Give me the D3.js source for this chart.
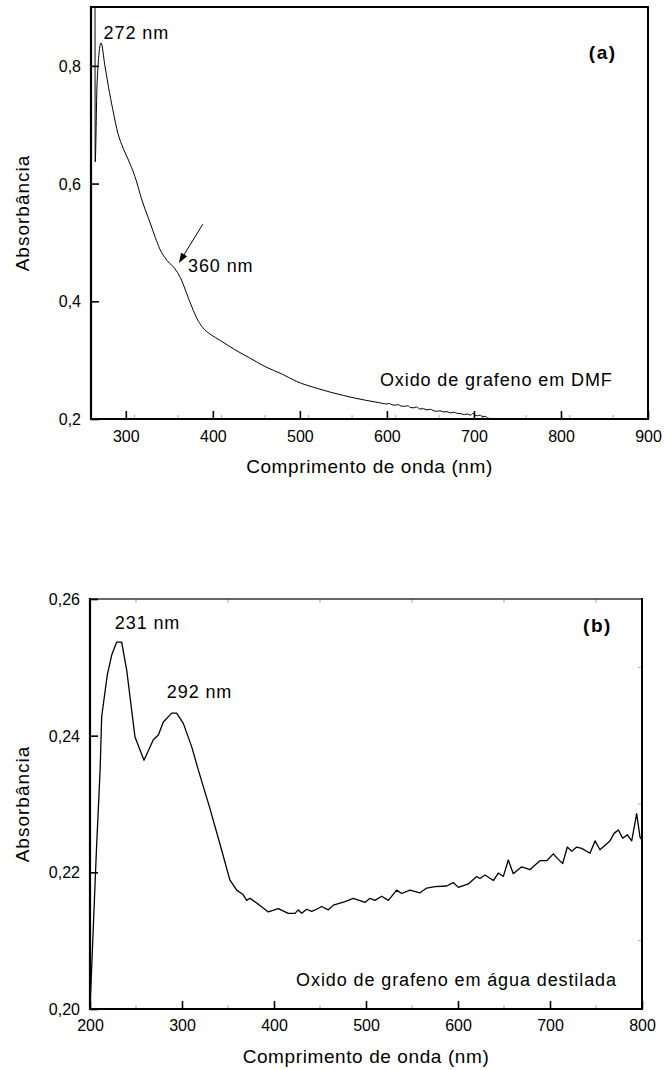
<!DOCTYPE html>
<html>
<head>
<meta charset="utf-8">
<script src="https://cdn.jsdelivr.net/npm/d3@7"></script>
<style>
  body { margin: 0; background: #fff; }
  svg text { font-family: "Liberation Sans", Arial, Helvetica, sans-serif; fill: #000; }
</style>
</head>
<body>
<div id="chart"></div>
<script>
// ---- panel (a): GO in DMF ----
const aWavelength = [264.6, 264.8, 267, 271.5, 276, 280, 285, 291, 297, 303, 310.5, 318.5, 328, 334, 339, 345, 350, 355, 358, 364, 370, 376, 382, 388, 398, 408, 425, 442, 460, 480, 496, 520, 550, 575, 590,
  595, 600, 603, 606, 610, 613, 616, 620, 624, 627, 631, 634, 638, 642, 646, 650, 653, 657, 661, 665, 669, 673, 677, 681, 685, 689, 693, 696, 699, 701, 704, 707, 710, 713, 716, 720, 724];
const aAbsorbance = [0.9, 0.637, 0.771, 0.839, 0.80, 0.765, 0.726, 0.685, 0.660, 0.640, 0.612, 0.572, 0.533, 0.508, 0.489, 0.474, 0.465, 0.458, 0.452, 0.436, 0.413, 0.390, 0.370, 0.356, 0.343, 0.334, 0.318, 0.304, 0.289, 0.276, 0.264, 0.252, 0.240, 0.232, 0.228,
  0.2265, 0.2255, 0.2265, 0.224, 0.2235, 0.2245, 0.222, 0.2215, 0.2225, 0.2195, 0.219, 0.2205, 0.217, 0.2175, 0.2155, 0.2165, 0.2145, 0.213, 0.214, 0.212, 0.2125, 0.2105, 0.2115, 0.2095, 0.209, 0.2075, 0.2085, 0.2065, 0.2095, 0.207, 0.2055, 0.2065, 0.2035, 0.2045, 0.2015, 0.2005, 0.199];
const aXTicks = [300, 400, 500, 600, 700, 800, 900];
const aYTicks = [0.2, 0.4, 0.6, 0.8];

// ---- panel (b): GO in distilled water ----
const bWavelength = [200, 207, 211, 212.7, 218.8, 223.6, 229, 234.4, 239.9, 248.9, 258.7, 268.8, 274.3, 279.7, 288.8, 294.2, 301.4, 310.5, 317.7, 330, 343, 352, 359.4, 366, 370.3, 373.9, 381.2, 393.8, 404.7, 415.5, 422.8, 426.4, 430.1, 435.5, 441, 446.4, 451.8, 459, 464.5, 477.2, 486.2, 498.9, 504.3, 509.8, 517, 524.3, 533.3, 538.8, 547.8, 558.7, 566, 575, 587.7, 594.9, 600.4, 611.2, 620.3, 623.9, 629.3, 638.4, 643.8, 649.3, 654.7, 660.1, 669.2, 678.3, 689.1, 696.4, 703.6, 709.1, 713.8, 718.8, 723.6, 729, 734.4, 743.5, 748.9, 754.3, 765.2, 769.6, 774.3, 779, 784, 788.8, 794.2, 797.8, 800];
const bAbsorbance = [0.2, 0.2233, 0.235, 0.2428, 0.2489, 0.2518, 0.2537, 0.2537, 0.2496, 0.2398, 0.2364, 0.2394, 0.2401, 0.2420, 0.2433, 0.2433, 0.2418, 0.2384, 0.235, 0.2295, 0.2233, 0.2189, 0.2174, 0.2168, 0.2159, 0.2162, 0.2155, 0.2142, 0.2147, 0.2140, 0.2140, 0.2145, 0.2140, 0.2146, 0.2143, 0.2146, 0.2150, 0.2145, 0.2152, 0.2157, 0.2162, 0.2156, 0.2162, 0.2159, 0.2165, 0.2159, 0.2174, 0.2169, 0.2174, 0.2170, 0.2177, 0.2179, 0.2180, 0.2185, 0.2178, 0.2183, 0.2194, 0.2191, 0.2196, 0.2188, 0.2199, 0.2194, 0.2218, 0.2198, 0.2208, 0.2204, 0.2217, 0.2217, 0.2227, 0.2219, 0.2213, 0.2237, 0.2231, 0.2237, 0.2235, 0.2228, 0.2246, 0.2233, 0.2246, 0.2257, 0.2262, 0.2250, 0.2255, 0.2246, 0.2286, 0.2252, 0.2247];
const bXTicks = [200, 300, 400, 500, 600, 700, 800];
const bYTicks = [0.20, 0.22, 0.24, 0.26];

const xTitle = "Comprimento de onda (nm)";
const yTitle = "Absorbância";

const W = 664, H = 1070;
const FONT = "'Liberation Sans', Arial, Helvetica, sans-serif";
const svg = d3.select("#chart").append("svg").attr("width", W).attr("height", H)
  .attr("font-family", FONT);

const commaFmt = (digits) => (v) => d3.format("." + digits + "f")(v).replace(".", ",");

function drawPanel(p) {
  const x = d3.scaleLinear().domain(p.xDomain).range([p.left, p.right]);
  const y = d3.scaleLinear().domain(p.yDomain).range([p.bottom, p.top]);
  const g = svg.append("g");

  g.append("defs").append("clipPath").attr("id", "clip" + p.id)
    .append("rect").attr("x", p.left).attr("y", p.top)
    .attr("width", p.right - p.left).attr("height", p.bottom - p.top);

  // faint minor ticks
  const xMinor = d3.range(p.xDomain[0], p.xDomain[1] + 1, p.xMinorStep).filter(v => !p.xTicks.includes(v));
  const yMinor = d3.range(p.yDomain[0], p.yDomain[1] + 1e-9, p.yMinorStep)
    .filter(v => !p.yTicks.some(t => Math.abs(t - v) < 1e-9));
  const minor = g.append("g").attr("stroke", "#aaa").attr("stroke-width", 1);
  xMinor.forEach(v => {
    minor.append("line").attr("x1", x(v)).attr("x2", x(v)).attr("y1", p.bottom).attr("y2", p.bottom - 4);
    if (p.minorAround) minor.append("line").attr("x1", x(v)).attr("x2", x(v)).attr("y1", p.top).attr("y2", p.top + 4);
  });
  if (p.minorAround) {
    yMinor.forEach(v => {
      minor.append("line").attr("x1", p.right).attr("x2", p.right - 4).attr("y1", y(v)).attr("y2", y(v));
    });
  }

  // frame
  g.append("line").attr("x1", p.left).attr("x2", p.right).attr("y1", p.top).attr("y2", p.top)
    .attr("stroke", p.topColor).attr("stroke-width", p.topWidth);
  g.append("line").attr("x1", p.right).attr("x2", p.right).attr("y1", p.top - 1).attr("y2", p.bottom)
    .attr("stroke", "#000").attr("stroke-width", 2);

  // bottom axis
  const xAxis = d3.axisBottom(x).tickValues(p.xTicks).tickSizeInner(-8).tickSizeOuter(0);
  const gx = g.append("g").attr("transform", `translate(0,${p.bottom})`).call(xAxis)
    .attr("font-family", null).attr("font-size", 16);
  gx.select(".domain").attr("stroke-width", 2.2).attr("d", `M${p.left - 1},0H${p.right + 1}`);
  gx.selectAll(".tick line").attr("stroke-width", 1.6);
  gx.selectAll(".tick text").attr("dy", null).attr("y", p.xLabelDy);

  // left axis
  const yAxis = d3.axisLeft(y).tickValues(p.yTicks).tickFormat(commaFmt(p.yDigits)).tickSizeInner(-8).tickSizeOuter(0).tickPadding(10);
  const gy = g.append("g").attr("transform", `translate(${p.left},0)`).call(yAxis)
    .attr("font-family", null).attr("font-size", 16);
  gy.select(".domain").attr("stroke-width", 2.2).attr("d", `M0,${p.top - 1}V${p.bottom + 1}`);
  gy.selectAll(".tick line").attr("stroke-width", 1.6);
  gy.selectAll(".tick text").attr("dy", "0.34em");

  // curve
  const pts = p.wl.map((w, i) => [w, p.ab[i]]);
  const line = d3.line().x(d => x(d[0])).y(d => y(d[1])).curve(p.curve);
  g.append("path").datum(pts).attr("d", line).attr("fill", "none")
    .attr("stroke", "#000").attr("stroke-width", p.curveWidth).attr("stroke-linejoin", "round")
    .attr("clip-path", `url(#clip${p.id})`);

  // titles
  g.append("text").attr("x", (p.left + p.right) / 2).attr("y", p.bottom + 54)
    .attr("text-anchor", "middle").attr("font-size", 19).attr("letter-spacing", 0.6).text(xTitle);
  g.append("text").attr("transform", `translate(29,${(p.top + p.bottom) / 2}) rotate(-90)`)
    .attr("text-anchor", "middle").attr("font-size", 19).attr("letter-spacing", 1).text(yTitle);

  // annotations
  p.notes.forEach(n => {
    g.append("text").attr("x", x(n.w)).attr("y", y(n.v))
      .attr("font-size", n.bold ? 19 : 18).attr("font-weight", n.bold ? "bold" : null)
      .attr("letter-spacing", n.bold ? 1.5 : 0.9).text(n.text);
  });

  if (p.arrow) {
    const a = p.arrow;
    const x1 = x(a.from[0]), y1 = y(a.from[1]), x2 = x(a.to[0]), y2 = y(a.to[1]);
    const ang = Math.atan2(y2 - y1, x2 - x1);
    g.append("line").attr("x1", x1).attr("y1", y1).attr("x2", x2 - 6 * Math.cos(ang)).attr("y2", y2 - 6 * Math.sin(ang))
      .attr("stroke", "#000").attr("stroke-width", 1);
    const hl = 10, hw = 3.5;
    const bx = x2 - hl * Math.cos(ang), by = y2 - hl * Math.sin(ang);
    const px = -Math.sin(ang) * hw, py = Math.cos(ang) * hw;
    g.append("path").attr("d", `M${x2},${y2}L${bx + px},${by + py}L${bx - px},${by - py}Z`).attr("fill", "#000");
  }
}

drawPanel({
  id: "a", left: 91, right: 648, top: 7, bottom: 419,
  xDomain: [260, 900], yDomain: [0.2, 0.9], xMinorStep: 50, yMinorStep: 0.1,
  xTicks: aXTicks, yTicks: aYTicks, yDigits: 1, xLabelDy: 23, minorAround: false,
  wl: aWavelength, ab: aAbsorbance, curveWidth: 1, curve: d3.curveMonotoneX,
  topColor: "#000", topWidth: 2,
  notes: [
    { text: "272 nm", w: 274.5, v: 0.845 },
    { text: "360 nm", w: 371.5, v: 0.45 },
    { text: "Oxido de grafeno em DMF", w: 592, v: 0.256 },
    { text: "(a)", w: 832, v: 0.812, bold: true }
  ],
  arrow: { from: [388.5, 0.531], to: [361, 0.465] }
});

drawPanel({
  id: "b", left: 90, right: 642, top: 599, bottom: 1009,
  xDomain: [200, 800], yDomain: [0.20, 0.26], xMinorStep: 50, yMinorStep: 0.01,
  xTicks: bXTicks, yTicks: bYTicks, yDigits: 2, xLabelDy: 22, minorAround: true,
  wl: bWavelength, ab: bAbsorbance, curveWidth: 1.3, curve: d3.curveLinear,
  topColor: "#333", topWidth: 1.5,
  notes: [
    { text: "231 nm", w: 227, v: 0.2556 },
    { text: "292 nm", w: 283.5, v: 0.2455 },
    { text: "Oxido de grafeno em água destilada", w: 424, v: 0.2033 },
    { text: "(b)", w: 736, v: 0.2552, bold: true }
  ]
});
</script>
</body>
</html>
